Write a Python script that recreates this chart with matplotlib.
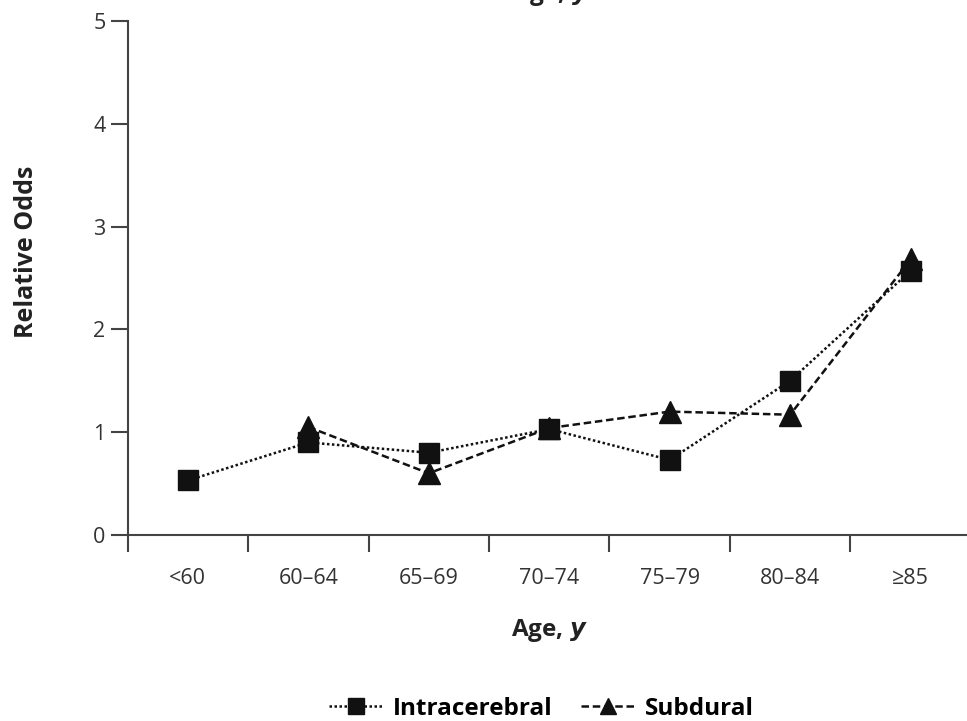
import numpy as np
import matplotlib
matplotlib.use("Agg")
import matplotlib.pyplot as plt

plt.rcParams['font.family'] = ['Open Sans', 'DejaVu Sans']

ages = ['<60', '60–64', '65–69', '70–74', '75–79', '80–84', '≥85']
intracerebral = [0.53, 0.90, 0.80, 1.03, 0.73, 1.50, 2.57]
subdural = [None, 1.05, 0.60, 1.04, 1.20, 1.17, 2.68]

x = np.arange(len(ages))
sub = np.array([np.nan if v is None else v for v in subdural])

fig = plt.figure(figsize=(9.67, 7.21), dpi=100)
ax = fig.add_axes([0.132, 0.258, 0.872, 0.713])

ink = '#111111'
ax.plot(x, intracerebral, ls=(0, (1, 1)), lw=1.8, color=ink, marker='s', ms=15,
        label='Intracerebral')
ax.plot(x, sub, ls=(0, (3, 1.5)), lw=1.8, color=ink, marker='^', ms=16,
        label='Subdural')

ax.set_xlim(-0.5, 6.5)
ax.set_ylim(0, 5)
ax.set_yticks(range(6))
ax.set_xticks(x)
ax.set_xticklabels(ages)
ax.set_xticks(np.arange(-0.5, 6.5, 1), minor=True)
ax.tick_params(axis='x', which='major', length=0, pad=24, labelsize=15.5, colors='#333333')
ax.tick_params(axis='x', which='minor', length=12, width=1.5, color='#444444')
ax.tick_params(axis='y', length=12, width=1.5, color='#444444', labelsize=15.5,
               labelcolor='#333333', pad=4)

for s in ['top', 'right']:
    ax.spines[s].set_visible(False)
for s in ['left', 'bottom']:
    ax.spines[s].set_linewidth(1.5)
    ax.spines[s].set_color('#444444')

ax.set_ylabel('Relative Odds', fontsize=18, fontweight='bold', color='#222222')
ax.yaxis.set_label_coords(-0.105, 0.55)
ax.set_xlabel('Age, $\\mathbfit{y}$', fontsize=17.5, fontweight='bold', labelpad=20, color='#222222')

# cut-off label from the panel above
fig.text(0.57, 1.0, 'Age, $\\mathbfit{y}$', fontsize=17.5, fontweight='bold',
         ha='center', va='baseline', color='#222222')

fig.legend(loc='lower center', bbox_to_anchor=(0.56, -0.03), ncol=2, frameon=False,
           prop={'weight': 'bold', 'size': 17.5}, handlelength=2.2, columnspacing=1.2,
           handletextpad=0.4, markerscale=0.75)

fig.savefig('out.png', dpi=100)
